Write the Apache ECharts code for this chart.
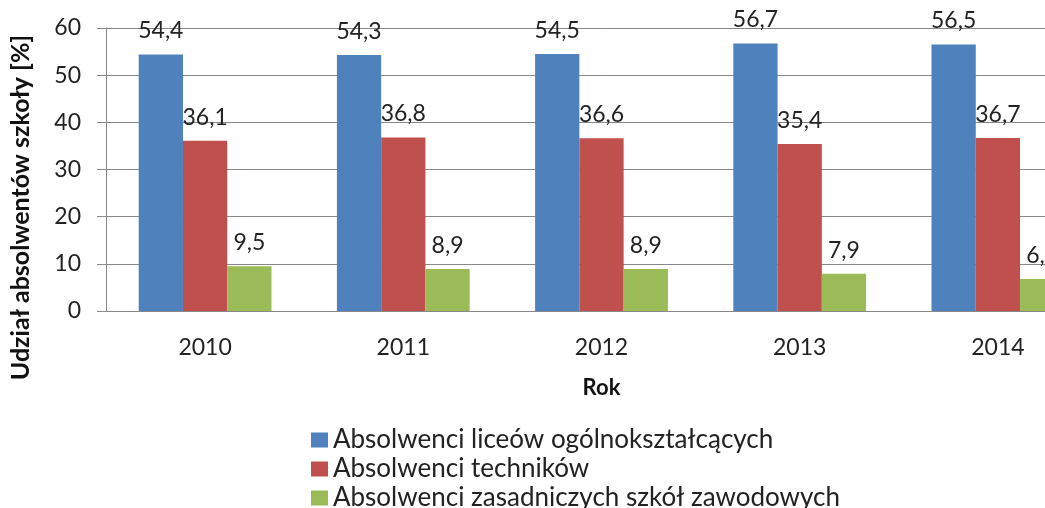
<!DOCTYPE html>
<html>
<head>
<meta charset="utf-8">
<script src="https://cdn.jsdelivr.net/npm/echarts@6/dist/echarts.min.js"></script>
<style>
  html, body { margin: 0; padding: 0; background: #fff; overflow: hidden; }
  #main { width: 1100px; height: 508px; }
</style>
</head>
<body>
<div id="main"></div>
<script>
const years = ['2010', '2011', '2012', '2013', '2014'];
const seriesNames = [
  'Absolwenci liceów ogólnokształcących',
  'Absolwenci techników',
  'Absolwenci zasadniczych szkół zawodowych'
];
const licea = [54.4, 54.3, 54.5, 56.7, 56.5];
const technika = [36.1, 36.8, 36.6, 35.4, 36.7];
const zawodowe = [9.5, 8.9, 8.9, 7.9, 6.8];
const colors = ['#4F81BD', '#C0504D', '#9BBB59'];

const font = 'Lato, "Open Sans", sans-serif';
const fmt = p => String(p.value).replace('.', ',');

const makeSeries = (name, data, color) => ({
  name: name,
  type: 'bar',
  data: data,
  barGap: 0,
  barCategoryGap: '33%',
  itemStyle: { color: color },
  label: {
    show: true,
    position: 'top',
    distance: 12,
    formatter: fmt,
    color: '#222',
    fontFamily: font,
    fontSize: 23
  }
});

// one legend per row, so they stack like the original
const legendTops = [421, 450, 479];
const makeLegend = (i) => ({
  orient: 'vertical',
  left: 306,
  top: legendTops[i],
  itemWidth: 17,
  itemHeight: 15,
  icon: 'rect',
  selectedMode: false,
  textStyle: { fontFamily: font, fontSize: 26, color: '#222', lineHeight: 28 },
  data: [seriesNames[i]]
});

let chartDom = document.getElementById('main');
let myChart = echarts.init(chartDom, null, { renderer: 'canvas' });

let option = {
  animation: false,
  backgroundColor: '#fff',
  grid: {
    left: 97,
    top: 28,
    width: 1000,
    bottom: 197
  },
  legend: [makeLegend(0), makeLegend(1), makeLegend(2)],
  xAxis: {
    type: 'category',
    data: years,
    name: 'Rok',
    nameLocation: 'middle',
    nameGap: 66,
    nameTextStyle: { fontFamily: font, fontWeight: 'bold', fontSize: 22, color: '#111' },
    axisLine: { lineStyle: { color: '#888' } },
    axisTick: { show: false },
    axisLabel: { margin: 25, fontFamily: font, fontSize: 23, color: '#222' }
  },
  yAxis: {
    type: 'value',
    min: 0,
    max: 60,
    interval: 10,
    name: 'Udział absolwentów szkoły [%]',
    nameLocation: 'middle',
    nameGap: 73,
    nameTextStyle: {
      fontFamily: font, fontWeight: 'bold', fontSize: 25, color: '#111',
      padding: [0, 76, 0, 0]
    },
    axisLine: { show: true, lineStyle: { color: '#888' } },
    axisTick: { show: true, length: 9, lineStyle: { color: '#888' } },
    splitLine: { lineStyle: { color: '#888' } },
    axisLabel: { margin: 25, fontFamily: font, fontSize: 23, color: '#222' }
  },
  series: [
    makeSeries(seriesNames[0], licea, colors[0]),
    makeSeries(seriesNames[1], technika, colors[1]),
    makeSeries(seriesNames[2], zawodowe, colors[2])
  ]
};

option && myChart.setOption(option);
</script>
</body>
</html>
